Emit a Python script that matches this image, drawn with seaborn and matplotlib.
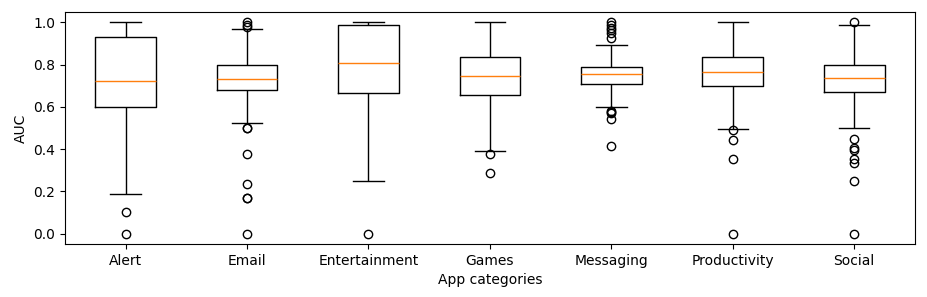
import matplotlib
matplotlib.use("Agg")
from matplotlib import pyplot as plt
import pandas as pd
import seaborn as sns

categories = ['Alert', 'Email', 'Entertainment', 'Games', 'Messaging', 'Productivity', 'Social']

# values: whisker ends, quartiles, median and outliers
low_out = [[0.0, 0.10],
           [0.0, 0.167, 0.17, 0.233, 0.376, 0.5, 0.5],
           [0.0],
           [0.286, 0.376],
           [0.415, 0.545, 0.57, 0.575, 0.58],
           [0.0, 0.354, 0.444, 0.489],
           [0.0, 0.248, 0.333, 0.354, 0.397, 0.403, 0.449]]
whis_lo = [0.187, 0.524, 0.248, 0.39, 0.600, 0.497, 0.5]
q1 = [0.600, 0.680, 0.668, 0.658, 0.708, 0.700, 0.671]
med = [0.725, 0.733, 0.810, 0.748, 0.757, 0.767, 0.738]
q3 = [0.929, 0.797, 0.990, 0.838, 0.790, 0.838, 0.800]
whis_hi = [1.0, 0.970, 1.0, 1.0, 0.892, 1.0, 0.990]
high_out = [[],
            [0.98, 0.99, 1.0],
            [],
            [],
            [0.924, 0.952, 0.963, 0.976, 0.989, 1.0],
            [],
            [1.0]]

rows = []
for i, cat in enumerate(categories):
    vals = (low_out[i] + [whis_lo[i]] + [q1[i]] * 20 + [med[i]] * 20
            + [q3[i]] * 20 + [whis_hi[i]] + high_out[i])
    rows += [(cat, v) for v in vals]
df = pd.DataFrame(rows, columns=['App categories', 'AUC'])

f, ax = plt.subplots(figsize=(9.27, 2.97), dpi=100)
sns.boxplot(data=df, x='App categories', y='AUC', order=categories,
            fill=False, color='black', width=0.5, linewidth=1, ax=ax,
            medianprops={'color': '#ff7f0e', 'linewidth': 1},
            flierprops={'marker': 'o', 'markerfacecolor': 'none',
                        'markeredgecolor': 'black', 'markersize': 6})
ax.set_xlabel('App categories')
ax.set_ylabel('AUC')
plt.subplots_adjust(left=0.070, right=0.987, top=0.960, bottom=0.178)
plt.savefig('out.png')
